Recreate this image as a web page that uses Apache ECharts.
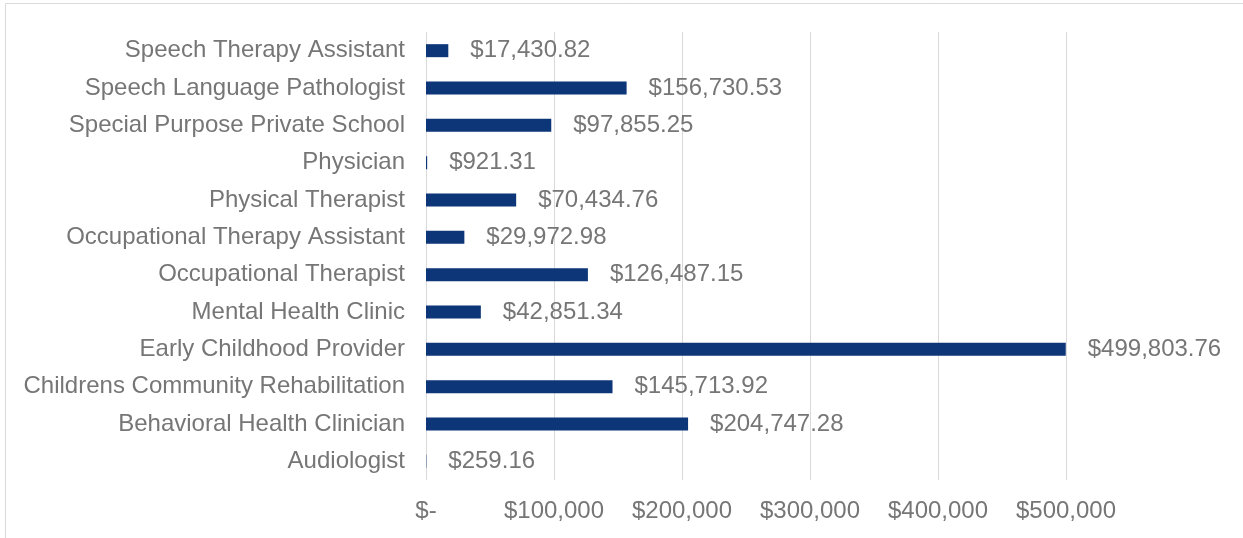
<!DOCTYPE html>
<html>
<head>
<meta charset="utf-8">
<script src="https://cdn.jsdelivr.net/npm/echarts@6/dist/echarts.min.js"></script>
<style>
  html, body { margin: 0; padding: 0; background: #fff; }
  #chart { width: 1243px; height: 538px; }
</style>
</head>
<body>
<div id="chart"></div>
<script>
// categories bottom -> top (as on the y axis)
var categories = [
    'Audiologist',
    'Behavioral Health Clinician',
    'Childrens Community Rehabilitation',
    'Early Childhood Provider',
    'Mental Health Clinic',
    'Occupational Therapist',
    'Occupational Therapy Assistant',
    'Physical Therapist',
    'Physician',
    'Special Purpose Private School',
    'Speech Language Pathologist',
    'Speech Therapy Assistant'
];
var amounts = [
    259.16, 204747.28, 145713.92, 499803.76, 42851.34, 126487.15,
    29972.98, 70434.76, 921.31, 97855.25, 156730.53, 17430.82
];
var xTicks = [0, 100000, 200000, 300000, 400000, 500000];

var color = {
    bar: '#0c3677',
    text: '#767676',
    grid: '#d9d9d9'
};

var fmtMoney = function (v, dec) {
    if (v === 0) return '$-';
    return '$' + v.toLocaleString('en-US', { minimumFractionDigits: dec, maximumFractionDigits: dec });
};

var chart = echarts.init(document.getElementById('chart'));
var option = {
    animation: false,
    textStyle: { fontFamily: 'Liberation Sans, Arial, sans-serif' },
    graphic: [{
        type: 'rect',
        shape: { x: 5.5, y: 3.5, width: 1300, height: 600 },
        style: { fill: 'none', stroke: color.grid, lineWidth: 1 },
        silent: true
    }],
    grid: { left: 426, right: 177, top: 32, bottom: 58, containLabel: false },
    xAxis: {
        type: 'value',
        min: xTicks[0],
        max: xTicks[xTicks.length - 1],
        interval: 100000,
        axisLine: { show: false },
        axisTick: { show: false },
        splitLine: { show: true, lineStyle: { color: color.grid, width: 1 } },
        axisLabel: {
            color: color.text,
            fontSize: 24,
            margin: 19,
            formatter: function (v) { return fmtMoney(v, 0); }
        }
    },
    yAxis: {
        type: 'category',
        data: categories,
        axisLine: { show: false },
        axisTick: { show: false },
        axisLabel: { color: color.text, fontSize: 24, margin: 21 }
    },
    series: [{
        type: 'bar',
        data: amounts,
        barWidth: 13,
        itemStyle: { color: color.bar },
        label: {
            show: true,
            position: 'right',
            distance: 22,
            color: color.text,
            fontSize: 24,
            formatter: function (p) { return fmtMoney(p.value, 2); }
        }
    }]
};
chart.setOption(option);
</script>
</body>
</html>
